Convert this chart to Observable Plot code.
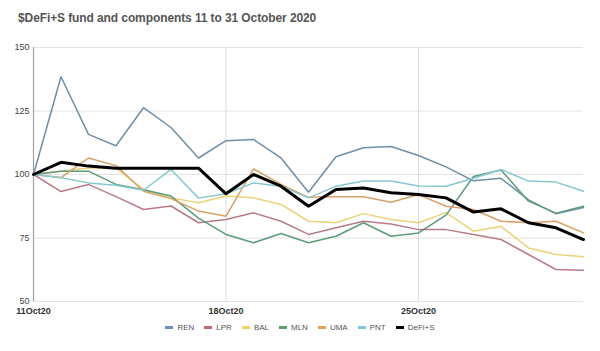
<!DOCTYPE html>
<html><head><meta charset="utf-8">
<script src="https://cdn.jsdelivr.net/npm/d3@7"></script>
<script src="https://cdn.jsdelivr.net/npm/@observablehq/plot@0.6"></script>
<style>
body{margin:0;background:#fff;font-family:"Liberation Sans",Arial,sans-serif;}
#title{height:36px;box-sizing:border-box;padding:11px 0 0 18px;font-size:12px;font-weight:bold;color:#555;letter-spacing:-0.1px;}
#legend{display:flex;justify-content:center;padding:2px 0 0 0;font-size:8px;color:#555;}
.item{display:flex;align-items:center;margin:0 5px;}
.sw{width:8px;height:3px;margin-right:4px;}
</style></head>
<body>
<div id="title">$DeFi+S fund and components 11 to 31 October 2020</div>
<div id="chart"></div>
<div id="legend"></div>
<script>
const days = [11,12,13,14,15,16,17,18,19,20,21,22,23,24,25,26,27,28,29,30,31];
const xTicks = [11,18,25];
const yTicks = [50,75,100,125,150];
const seriesNames = ["REN","LPR","BAL","MLN","UMA","PNT","DeFi+S"];
const REN  = [100,138.5,115.8,111.3,126.3,118.5,106.5,113.3,113.8,106.5,93,107,110.5,111,107.5,103,97.5,98.5,90,84.5,87];
const LPR  = [100,93.3,96.1,91.3,86.2,87.6,81,82.3,84.9,81.6,76.4,79,81.6,80.5,78.3,78.3,76.4,74.4,68.5,62.6,62.3];
const BAL  = [100,101.3,102.6,102.6,94.1,90.8,88.9,91.5,90.8,88.2,81.6,81,84.6,82.3,81,85,77.7,79.6,71.1,68.5,67.6];
const MLN  = [100,101.3,101.3,96.1,94,91.5,82.8,76.4,73.1,76.8,73.1,75.7,81,75.7,77,84,99.2,101.8,89.5,84.8,87.5];
const UMA  = [100,98.8,106.5,103.5,93.4,90.5,85.6,83.6,102.2,96.1,91,91.2,91.2,89.1,92.1,87.5,86.2,81.6,81,81.6,77];
const PNT  = [100,98.7,96.7,95.8,93.8,102,90.7,92.4,96.7,95.4,90.8,95.4,97.4,97.4,95.5,95.4,98.5,102,97.4,97,93.4];
const DEFI = [100,104.8,103.3,102.5,102.5,102.5,102.5,92.4,100,95.4,87.5,94.1,94.7,92.8,92.1,90.8,85.2,86.5,81,79,74.4];
const lineColors = ["#6f8ea6","#b97b86","#ebd27a","#5c9c7a","#d9a066","#86c8cf","#000000"];
const legendColors = ["#6b8fc4","#c8646a","#f0d26a","#5aa06e","#e6a050","#7cc8d4","#000000"];

const values = [REN,LPR,BAL,MLN,UMA,PNT,DEFI];
const rows = [];
seriesNames.forEach((s,i)=>values[i].forEach((v,j)=>rows.push({series:s,day:days[j],value:v})));

const marks = [
  Plot.ruleY(yTicks,{stroke:"#e2e2e2",strokeWidth:1}),
  Plot.ruleX(xTicks.slice(1),{stroke:"#dcdcdc",strokeWidth:1}),
  Plot.ruleX([11],{stroke:"#a0a0a0",strokeWidth:1.2}),
  Plot.axisX({ticks:xTicks,tickFormat:d=>d+"Oct20",tickSize:0,tickPadding:6,fontWeight:"bold",fill:"#333"}),
  Plot.axisY({ticks:yTicks,tickSize:0,tickPadding:4,fill:"#444"})
];
seriesNames.forEach((s,i)=>{
  marks.push(Plot.line(rows.filter(r=>r.series===s),{x:"day",y:"value",stroke:lineColors[i],strokeWidth:s==="DeFi+S"?3:1.5,strokeLinejoin:"miter"}));
});

const chart = Plot.plot({
  width:600,height:285,
  marginLeft:33,marginRight:17,marginTop:11,marginBottom:20,
  style:{fontFamily:"'Liberation Sans',Arial,sans-serif",fontSize:"9px",background:"#fff"},
  x:{domain:[11,31],label:null},
  y:{domain:[50,150],label:null},
  marks
});
document.getElementById("chart").appendChild(chart);

const lg = document.getElementById("legend");
seriesNames.forEach((s,i)=>{
  const it=document.createElement("div");it.className="item";
  const sw=document.createElement("div");sw.className="sw";sw.style.background=legendColors[i];
  const t=document.createElement("span");t.textContent=s;
  it.appendChild(sw);it.appendChild(t);lg.appendChild(it);
});
</script>
</body></html>
